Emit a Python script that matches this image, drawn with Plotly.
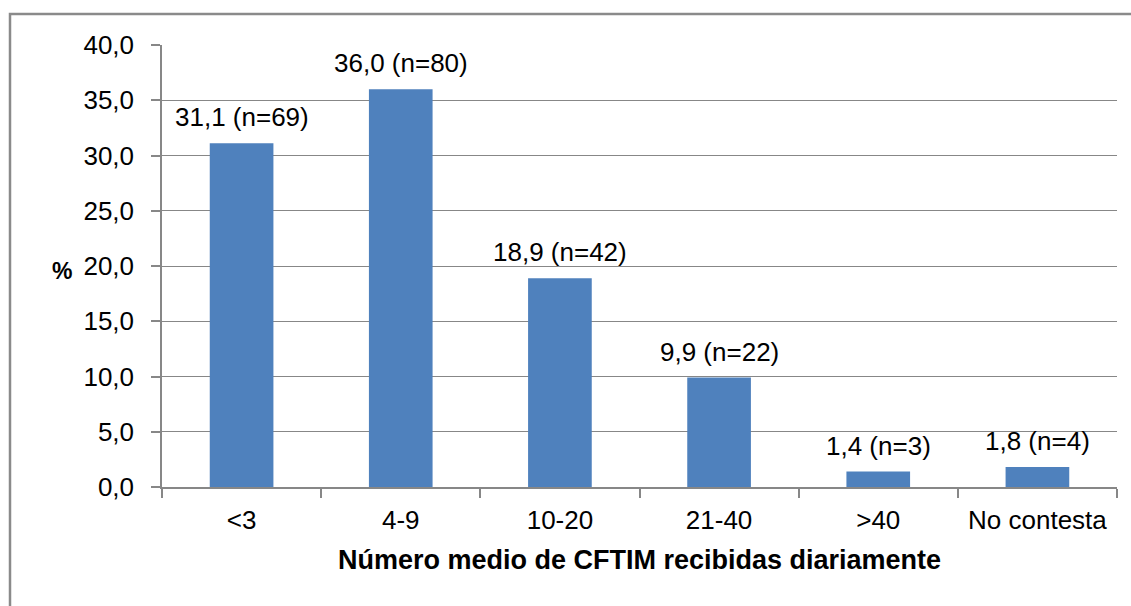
import plotly.graph_objects as go

categories = ["<3", "4-9", "10-20", "21-40", ">40", "No contesta"]
percent = [31.1, 36.0, 18.9, 9.9, 1.4, 1.8]
counts = [69, 80, 42, 22, 3, 4]
y_ticks = [0, 5, 10, 15, 20, 25, 30, 35, 40]

W, H = 1131, 606
L, R, T, B = 162, 1117, 45, 487
FONT = "Liberation Sans, Arial, sans-serif"
GRAY = "#878787"
FS = 26

fig = go.Figure()
fig.add_trace(go.Bar(x=categories, y=percent, marker=dict(color="#4F81BD", line=dict(width=0)),
                     showlegend=False, hoverinfo="skip"))

for c, v, n in zip(categories, percent, counts):
    lbl = f"{v:.1f}".replace(".", ",") + f" (n={n})"
    fig.add_annotation(x=c, y=v, text=lbl, showarrow=False, yanchor="bottom",
                       yshift=9, font=dict(family=FONT, size=FS, color="#000000"))

pw, ph = R - L, B - T
def px(x): return (x - L) / pw
def py(y): return (B - y) / ph

# outer chart border (top and left visible, others cut)
fig.add_shape(type="rect", xref="paper", yref="paper",
              x0=px(10), x1=px(1140), y0=py(615), y1=py(14),
              line=dict(color="#8a8a8a", width=2.5), fillcolor="rgba(0,0,0,0)", layer="below")

fig.add_annotation(xref="paper", yref="paper", x=px(62), y=py(271), text="<b>%</b>",
                   xanchor="center", yanchor="middle",
                   showarrow=False, font=dict(family=FONT, size=FS - 3, color="#000000"))

fig.update_layout(
    width=W, height=H,
    margin=dict(l=L, r=W - R, t=T, b=H - B, pad=0),
    paper_bgcolor="white", plot_bgcolor="white",
    separators=", ",
    bargap=0.6,
    font=dict(family=FONT, size=FS, color="#000000"),
    xaxis=dict(
        type="category", tickson="boundaries", ticks="outside", ticklen=9, tickcolor=GRAY,
        tickwidth=1.5,
        showline=True, linecolor=GRAY, linewidth=1.5, showgrid=False,
        tickfont=dict(family=FONT, size=FS, color="#000000"),
        ticklabelstandoff=9,
        title=dict(text="<b>Número medio de CFTIM recibidas diariamente</b>",
                   font=dict(family=FONT, size=FS + 1, color="#000000"), standoff=16),
    ),
    yaxis=dict(
        range=[0, 40], tickvals=y_ticks, tickformat=".1f",
        ticks="outside", ticklen=9, tickcolor=GRAY, tickwidth=1.5,
        showline=True, linecolor=GRAY, linewidth=1.5,
        showgrid=True, gridcolor=GRAY, gridwidth=1.2, zeroline=False,
        tickfont=dict(family=FONT, size=FS, color="#000000"),
        ticklabelstandoff=12,
    ),
)

fig.write_html("out.html")
